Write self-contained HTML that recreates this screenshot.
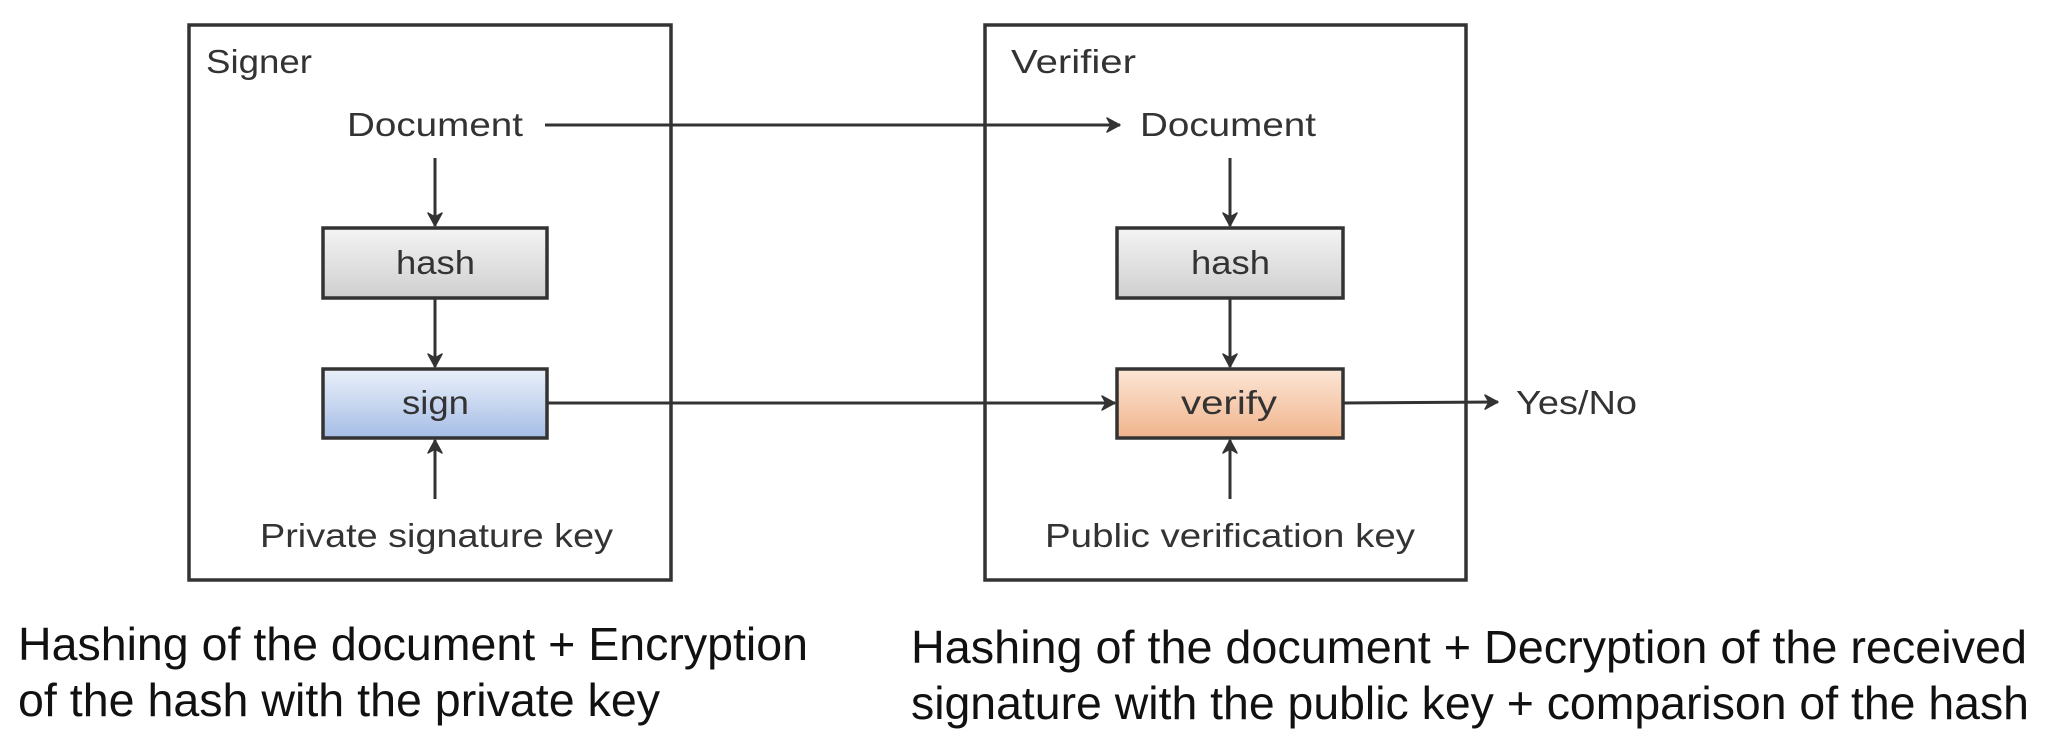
<!DOCTYPE html>
<html><head><meta charset="utf-8"><style>
html,body{margin:0;padding:0;background:#fff;}
svg{display:block}
</style></head><body>
<svg width="2058" height="742" viewBox="0 0 2058 742" xmlns="http://www.w3.org/2000/svg">
<defs>
<linearGradient id="g" x1="0" y1="0" x2="0" y2="1"><stop offset="0" stop-color="#f4f4f4"/><stop offset="1" stop-color="#cfcfcf"/></linearGradient>
<linearGradient id="b" x1="0" y1="0" x2="0" y2="1"><stop offset="0" stop-color="#eaf0fa"/><stop offset="1" stop-color="#a6bde6"/></linearGradient>
<linearGradient id="o" x1="0" y1="0" x2="0" y2="1"><stop offset="0" stop-color="#fce6d6"/><stop offset="1" stop-color="#f0b48c"/></linearGradient>
<marker id="a" markerWidth="18" markerHeight="18" refX="15" refY="9" orient="auto" markerUnits="userSpaceOnUse"><path d="M2,2 L15,9 L2,16 L6,9 Z" fill="#333" stroke="#333" stroke-width="1.5" stroke-linejoin="round"/></marker>
</defs>
<g fill="none" stroke="#333" stroke-width="3.5">
<rect x="189" y="25" width="482" height="555"/>
<rect x="985" y="25" width="481" height="555"/>
</g>
<rect x="323" y="228" width="224" height="70" fill="url(#g)" stroke="#333" stroke-width="3.5"/>
<rect x="323" y="369" width="224" height="69" fill="url(#b)" stroke="#333" stroke-width="3.5"/>
<rect x="1117" y="228" width="226" height="70" fill="url(#g)" stroke="#333" stroke-width="3.5"/>
<rect x="1117" y="369" width="226" height="69" fill="url(#o)" stroke="#333" stroke-width="3.5"/>
<g stroke="#333" stroke-width="3" fill="none" marker-end="url(#a)">
<line x1="545" y1="125" x2="1120" y2="125"/>
<line x1="435" y1="158" x2="435" y2="226"/>
<line x1="435" y1="299" x2="435" y2="367"/>
<line x1="435" y1="499" x2="435" y2="440"/>
<line x1="1230" y1="158" x2="1230" y2="226"/>
<line x1="1230" y1="299" x2="1230" y2="367"/>
<line x1="1230" y1="499" x2="1230" y2="440"/>
<line x1="547" y1="403" x2="1115" y2="403"/>
<line x1="1343" y1="403" x2="1498" y2="402"/>
</g>
<g font-family="Liberation Sans, sans-serif" font-size="33" fill="#333" lengthAdjust="spacingAndGlyphs">
<text x="206" y="73" textLength="106" lengthAdjust="spacingAndGlyphs">Signer</text>
<text x="1011" y="73" textLength="125" lengthAdjust="spacingAndGlyphs">Verifier</text>
<text x="347" y="136" textLength="176" lengthAdjust="spacingAndGlyphs">Document</text>
<text x="1140" y="136" textLength="176" lengthAdjust="spacingAndGlyphs">Document</text>
<text x="396" y="274" textLength="79" lengthAdjust="spacingAndGlyphs">hash</text>
<text x="1191" y="274" textLength="79" lengthAdjust="spacingAndGlyphs">hash</text>
<text x="402" y="414" textLength="67" lengthAdjust="spacingAndGlyphs">sign</text>
<text x="1181" y="414" textLength="96" lengthAdjust="spacingAndGlyphs">verify</text>
<text x="1516" y="414" textLength="121" lengthAdjust="spacingAndGlyphs">Yes/No</text>
<text x="260" y="547" textLength="353" lengthAdjust="spacingAndGlyphs">Private signature key</text>
<text x="1045" y="547" textLength="370" lengthAdjust="spacingAndGlyphs">Public verification key</text>
</g>
<g font-family="Liberation Sans, sans-serif" font-size="46" fill="#111">
<text x="18" y="660" textLength="790" lengthAdjust="spacingAndGlyphs">Hashing of the document + Encryption</text>
<text x="18" y="716" textLength="642" lengthAdjust="spacingAndGlyphs">of the hash with the private key</text>
<text x="911" y="663" textLength="1116" lengthAdjust="spacingAndGlyphs">Hashing of the document + Decryption of the received</text>
<text x="911" y="719" textLength="1118" lengthAdjust="spacingAndGlyphs">signature with the public key + comparison of the hash</text>
</g>
</svg>
</body></html>
